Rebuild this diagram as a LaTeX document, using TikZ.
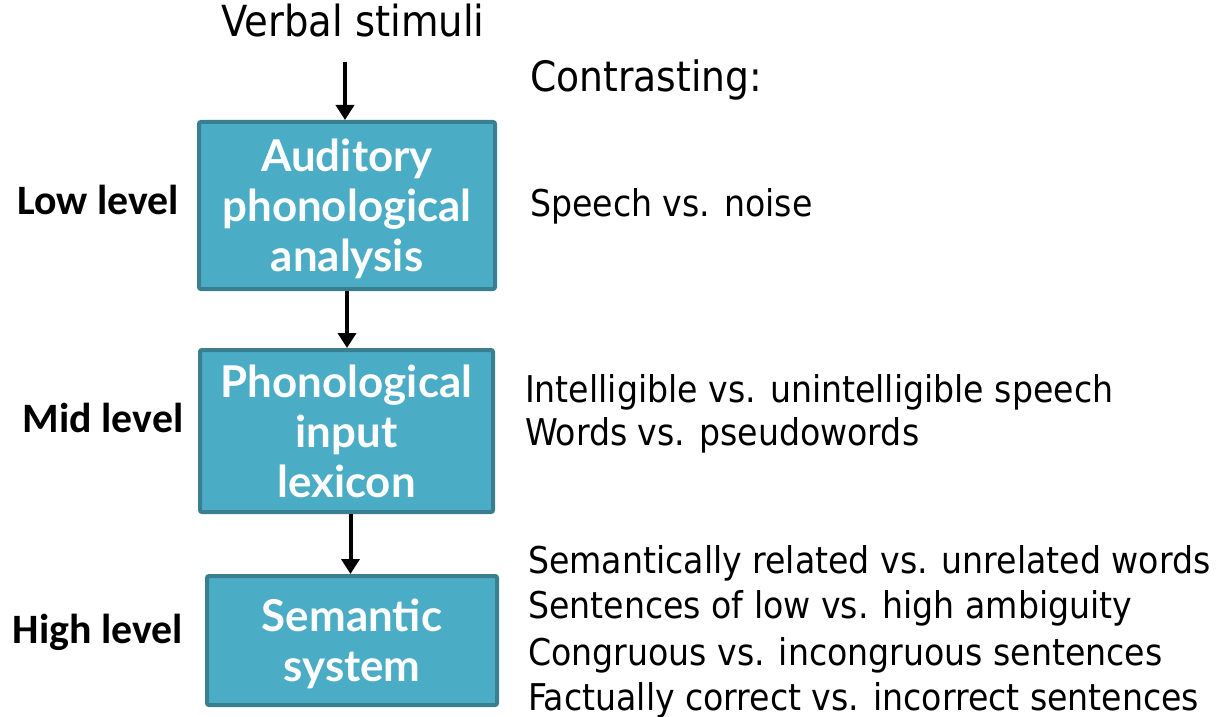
\documentclass[tikz,border=0pt]{standalone}
\usepackage{fontspec}
\setmainfont{DejaVu Sans Condensed}
\newfontfamily\labelfont{Carlito}
\newfontfamily\boxfont{Lato}
\usetikzlibrary{arrows.meta}
\definecolor{boxfill}{HTML}{4BACC6}
\definecolor{boxedge}{HTML}{3A7E90}
\tikzset{
  stage/.style={draw=boxedge, line width=4bp, fill=boxfill, rounded corners=2bp,
    text=white, align=center, inner sep=0pt, text depth=0pt,
    font=\boxfont\bfseries\fontsize{44}{50}\selectfont},
  level/.style={font=\labelfont\bfseries\fontsize{42}{46}\selectfont, inner sep=0pt},
  plain/.style={font=\fontsize{37}{46}\selectfont, inner sep=0pt, anchor=base west},
  flow/.style={line width=4bp, -{Triangle[length=15bp,width=18bp]}}
}
\begin{document}
\begin{tikzpicture}[x=1bp,y=-1bp]
\useasboundingbox (0,0) rectangle (1220,717);

% processing stages
\node[stage, minimum width=296bp, minimum height=167bp] (b1) at (347,205.5)
  {Auditory\\phonological\\analysis};
\node[stage, minimum width=293bp, minimum height=162bp] (b2) at (346.5,431)
  {Phonological\\input\\lexicon};
\node[stage, minimum width=290bp, minimum height=129bp] (b3) at (352,640.5)
  {Semantic\\system};

% input
\node[font=\fontsize{43}{46}\selectfont, inner sep=0pt, anchor=base] (vs) at (353,37) {Verbal stimuli};
\coordinate (vsa) at (345,62);

% arrows between stages
\draw[flow] (vsa) -- (vsa |- b1.north);
\draw[flow] (b1.south) -- (b1.south |- b2.north);
\draw[flow] ([xshift=4bp]b2.south) -- ([xshift=4bp]b2.south |- b3.north);

% level labels
\node[level] (l1) at (98,200) {Low level};
\node[level] (l2) at (103,418) {Mid level};
\node[level] (l3) at (98,632) {High level};

% contrasts
\node[plain, font=\fontsize{42}{46}\selectfont] (c0) at (530,92) {Contrasting:};
\node[plain] (c1) at (530,217) {Speech vs. noise};
\node[plain] (c2) at (525,402) {Intelligible vs. unintelligible speech};
\node[plain] (c3) at (525,445) {Words vs. pseudowords};
\node[plain] (c4) at (528,573) {Semantically related vs. unrelated words};
\node[plain] (c5) at (528,618) {Sentences of low vs. high ambiguity};
\node[plain] (c6) at (528,665) {Congruous vs. incongruous sentences};
\node[plain] (c7) at (528,710) {Factually correct vs. incorrect sentences};
\end{tikzpicture}
\end{document}
